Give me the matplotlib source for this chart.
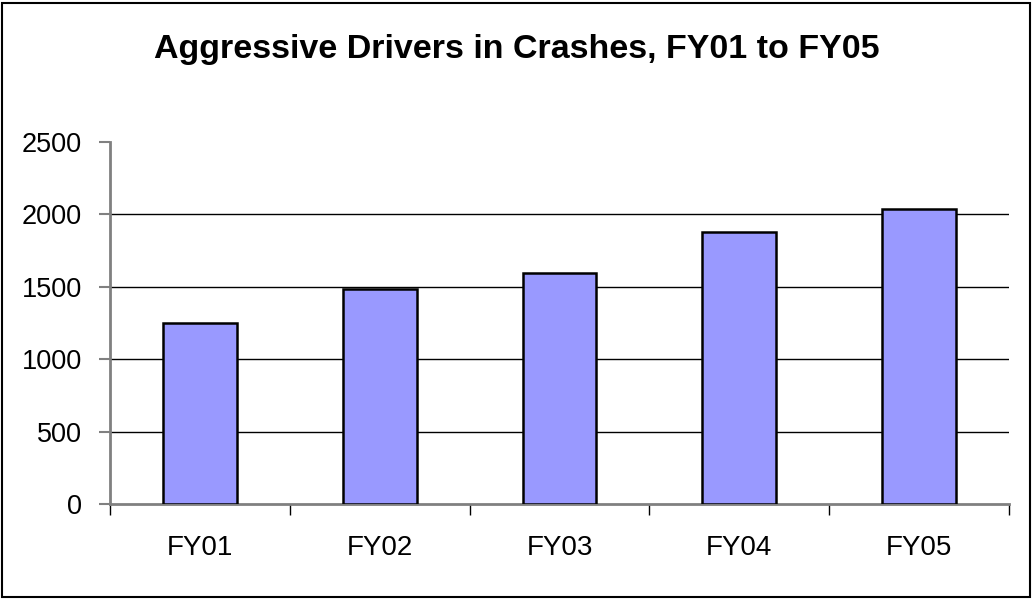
import numpy as np
import matplotlib
matplotlib.use("Agg")
import matplotlib.pyplot as plt
from matplotlib.patches import Rectangle

plt.rcParams['font.family'] = ['Liberation Sans', 'DejaVu Sans']

years = ["FY01", "FY02", "FY03", "FY04", "FY05"]
drivers = [1247, 1486, 1597, 1881, 2034]
y_ticks = [0, 500, 1000, 1500, 2000, 2500]

fig = plt.figure(figsize=(10.33, 5.99), dpi=100)
ax = fig.add_axes([0.1065, 0.1586, 0.8703, 0.6044])

x = np.arange(len(years))
# gridlines at every tick except the top one
for v in y_ticks[1:-1]:
    ax.axhline(v, color='black', linewidth=1.0, zorder=1)
ax.bar(x, drivers, width=0.41, color='#9999FF', edgecolor='black', linewidth=1.8, zorder=3)

ax.set_xlim(-0.5, len(years) - 0.5)
ax.set_ylim(0, 2500)
ax.set_yticks(y_ticks)
ax.set_yticklabels([str(v) for v in y_ticks], fontsize=19.5)
ax.set_xticks(x)
ax.set_xticklabels(years, fontsize=20)
ax.set_xticks(np.arange(-0.5, len(years)), minor=True)
ax.tick_params(axis='x', which='major', length=0, pad=22)
ax.tick_params(axis='x', which='minor', length=8, color='black', width=1)
ax.tick_params(axis='y', length=8, color='#808080', width=1.5, pad=12)

for s in ['top', 'right']:
    ax.spines[s].set_visible(False)
for s in ['left', 'bottom']:
    ax.spines[s].set_color('#808080')
    ax.spines[s].set_linewidth(2)

fig.text(0.5, 0.918, "Aggressive Drivers in Crashes, FY01 to FY05",
         ha='center', va='center', fontsize=24.5, fontweight='bold')

fig.patches.append(Rectangle((0.002, 0.004), 0.995, 0.991, transform=fig.transFigure,
                             fill=False, edgecolor='black', linewidth=1.5))

fig.savefig("out.png", dpi=100)
